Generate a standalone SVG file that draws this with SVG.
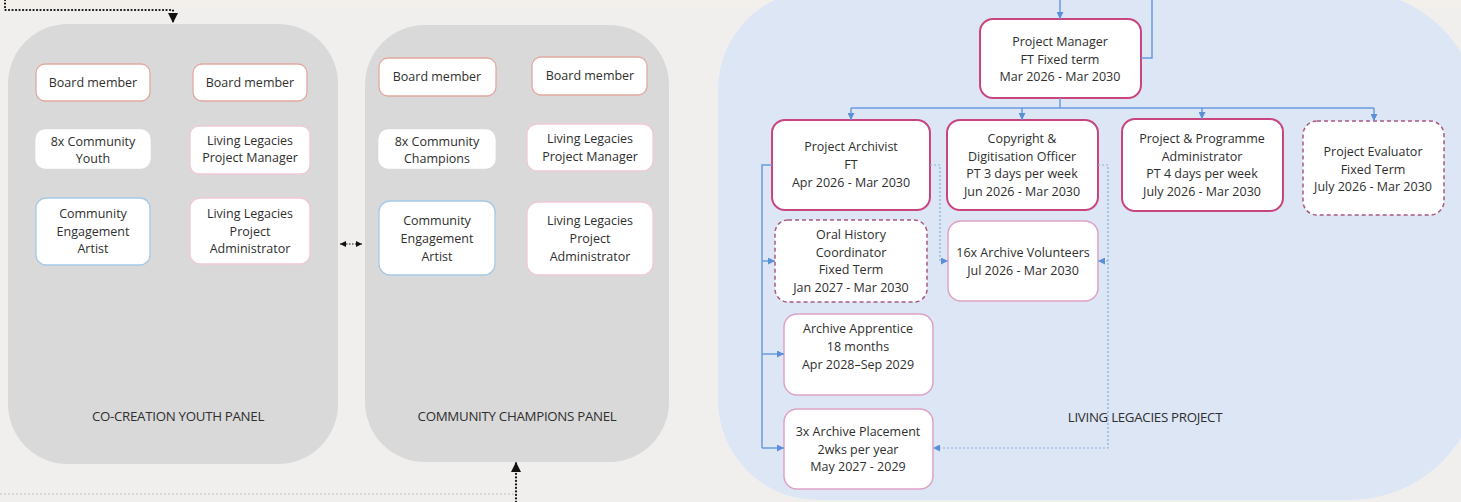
<svg xmlns="http://www.w3.org/2000/svg" width="1461" height="502" viewBox="0 0 1461 502">
<style>
text{font-family:"Open Sans","Liberation Sans",sans-serif;fill:#2f2f2f;font-size:12.5px;text-anchor:middle}
.lbl{font-size:13.3px;letter-spacing:-0.3px}
.n{fill:#fff;stroke-width:1.3}
.bm{stroke:#e2a9a0}
.ll{stroke:#efc9d6}
.wh{stroke:#fff}
.ar{stroke:#a7c9e6}
.mg{stroke:#c8457f;stroke-width:2}
.lp{stroke:#dfa2c6;stroke-width:1.5}
.ds{stroke:#a95a82;stroke-width:1.5;stroke-dasharray:4 3}
.solid{fill:none;stroke:#6a9be0;stroke-width:1.5}
.dot{fill:none;stroke:#8aaedc;stroke-width:1.2;stroke-dasharray:2 2}
.blk{fill:none;stroke:#111;stroke-width:2.2;stroke-dasharray:0.1 3.4;stroke-linecap:round}
</style>
<defs>
<marker id="ab" markerUnits="userSpaceOnUse" markerWidth="7" markerHeight="7" refX="7" refY="3.5" orient="auto"><path d="M0,0L7,3.5L0,7z" fill="#5b8fd6"/></marker>
<marker id="ak" markerUnits="userSpaceOnUse" markerWidth="10" markerHeight="10" refX="9" refY="5" orient="auto"><path d="M0,0L10,5L0,10z" fill="#111"/></marker>
<marker id="aks" markerUnits="userSpaceOnUse" markerWidth="6" markerHeight="6" refX="6" refY="3" orient="auto-start-reverse"><path d="M0,0L6,3L0,6z" fill="#111"/></marker>
</defs>
<rect width="1461" height="502" fill="#f0efed"/>
<rect x="0" y="0" width="1461" height="8" fill="#f3f0eb"/>

<g id="panel-youth">
<rect x="8" y="24" width="330" height="440" rx="60" fill="#d9d9d9"/>
<text class="lbl" x="178" y="421">CO-CREATION YOUTH PANEL</text>
</g>
<g id="panel-champions">
<rect x="365" y="25" width="304" height="437" rx="60" fill="#d9d9d9"/>
<text class="lbl" x="517" y="421">COMMUNITY CHAMPIONS PANEL</text>
</g>
<g id="panel-project">
<path d="M818,-10 H1350 A130,130 0 0 1 1480,120 V370 A130,130 0 0 1 1350,500 H818 A100,100 0 0 1 718,400 V90 A100,100 0 0 1 818,-10 Z" fill="#dce6f5"/>
<text class="lbl" x="1145" y="422">LIVING LEGACIES PROJECT</text>
</g>

<g id="y-board1"><rect class="n bm" x="36" y="64" width="114" height="37" rx="9"/><text x="93" y="87">Board member</text></g>
<g id="y-board2"><rect class="n bm" x="193" y="64" width="114" height="37" rx="9"/><text x="250" y="87">Board member</text></g>
<g id="y-youth"><rect class="n wh" x="36" y="130" width="114" height="38" rx="9"/><text x="93" y="146">8x Community<tspan x="93" dy="17">Youth</tspan></text></g>
<g id="y-llpm"><rect class="n ll" x="190" y="126" width="120" height="48" rx="9"/><text x="250" y="145">Living Legacies<tspan x="250" dy="17">Project Manager</tspan></text></g>
<g id="y-artist"><rect class="n ar" x="36" y="198" width="114" height="67" rx="10"/><text x="93" y="218">Community<tspan x="93" dy="17.5">Engagement</tspan><tspan x="93" dy="17.5">Artist</tspan></text></g>
<g id="y-llpa"><rect class="n ll" x="190" y="198" width="120" height="66" rx="10"/><text x="250" y="218">Living Legacies<tspan x="250" dy="17.5">Project</tspan><tspan x="250" dy="17.5">Administrator</tspan></text></g>

<g id="c-board1"><rect class="n bm" x="379" y="58" width="117" height="38" rx="9"/><text x="437" y="81">Board member</text></g>
<g id="c-board2"><rect class="n bm" x="532" y="57" width="115" height="38" rx="9"/><text x="590" y="80">Board member</text></g>
<g id="c-champions"><rect class="n wh" x="379" y="130" width="116" height="38" rx="9"/><text x="437" y="146">8x Community<tspan x="437" dy="17">Champions</tspan></text></g>
<g id="c-llpm"><rect class="n ll" x="527" y="124" width="126" height="47" rx="10"/><text x="590" y="143">Living Legacies<tspan x="590" dy="17.5">Project Manager</tspan></text></g>
<g id="c-artist"><rect class="n ar" x="379" y="201" width="116" height="74" rx="11"/><text x="437" y="225">Community<tspan x="437" dy="18">Engagement</tspan><tspan x="437" dy="18">Artist</tspan></text></g>
<g id="c-llpa"><rect class="n ll" x="527" y="202" width="126" height="73" rx="11"/><text x="590" y="225">Living Legacies<tspan x="590" dy="18">Project</tspan><tspan x="590" dy="18">Administrator</tspan></text></g>

<g id="p-manager"><rect class="n mg" x="980" y="19" width="161" height="79" rx="13"/><text x="1060" y="46">Project Manager<tspan x="1060" dy="17.5">FT Fixed term</tspan><tspan x="1060" dy="17.5">Mar 2026 - Mar 2030</tspan></text></g>
<g id="p-archivist"><rect class="n mg" x="772" y="120" width="158" height="90" rx="13"/><text x="851" y="151">Project Archivist<tspan x="851" dy="18">FT</tspan><tspan x="851" dy="18">Apr 2026 - Mar 2030</tspan></text></g>
<g id="p-copyright"><rect class="n mg" x="947" y="120" width="151" height="90" rx="13"/><text x="1022" y="143">Copyright &amp;<tspan x="1022" dy="17.5">Digitisation Officer</tspan><tspan x="1022" dy="17.5">PT 3 days per week</tspan><tspan x="1022" dy="17.5">Jun 2026 - Mar 2030</tspan></text></g>
<g id="p-admin"><rect class="n mg" x="1122" y="119" width="161" height="92" rx="13"/><text x="1202" y="143">Project &amp; Programme<tspan x="1202" dy="17.5">Administrator</tspan><tspan x="1202" dy="17.5">PT 4 days per week</tspan><tspan x="1202" dy="17.5">July 2026 - Mar 2030</tspan></text></g>
<g id="p-evaluator"><rect class="n ds" x="1303" y="121" width="141" height="94" rx="14"/><text x="1373" y="156">Project Evaluator<tspan x="1373" dy="17.5">Fixed Term</tspan><tspan x="1373" dy="17.5">July 2026 - Mar 2030</tspan></text></g>
<g id="p-oral"><rect class="n ds" x="775" y="220" width="152" height="82" rx="13"/><text x="851" y="239">Oral History<tspan x="851" dy="17.5">Coordinator</tspan><tspan x="851" dy="17.5">Fixed Term</tspan><tspan x="851" dy="17.5">Jan 2027 - Mar 2030</tspan></text></g>
<g id="p-volunteers"><rect class="n lp" x="948" y="221" width="150" height="80" rx="13"/><text x="1023" y="257">16x Archive Volunteers<tspan x="1023" dy="18">Jul 2026 - Mar 2030</tspan></text></g>
<g id="p-apprentice"><rect class="n lp" x="784" y="314" width="149" height="81" rx="13"/><text x="858" y="333">Archive Apprentice<tspan x="858" dy="18">18 months</tspan><tspan x="858" dy="18">Apr 2028–Sep 2029</tspan></text></g>
<g id="p-placement"><rect class="n lp" x="784" y="409" width="149" height="80" rx="13"/><text x="858" y="436">3x Archive Placement<tspan x="858" dy="17.5">2wks per year</tspan><tspan x="858" dy="17.5">May 2027 - 2029</tspan></text></g>

<g id="connectors">
<path class="blk" d="M5,0 V10 H173 V22" marker-end="url(#ak)"/>
<path class="blk" d="M516,502 V463" marker-end="url(#ak)"/>
<path d="M0,494 H516" fill="none" stroke="#d8d8d8" stroke-width="2" stroke-dasharray="2 2"/>
<path d="M340,244 H362" fill="none" stroke="#111" stroke-width="1.2" stroke-dasharray="1.5 1.5" marker-start="url(#aks)" marker-end="url(#aks)"/>

<path class="solid" d="M1060,0 V19" marker-end="url(#ab)"/>
<path class="solid" d="M1152,0 V58 H1141"/>
<path class="solid" d="M1060,98 V108 M851,108 H1374"/>
<path class="solid" d="M851,108 V120" marker-end="url(#ab)"/>
<path class="solid" d="M1022,108 V120" marker-end="url(#ab)"/>
<path class="solid" d="M1202,108 V119" marker-end="url(#ab)"/>
<path class="solid" d="M1374,108 V121" marker-end="url(#ab)"/>
<path class="solid" d="M772,165 H762 V448"/>
<path class="solid" d="M762,261 H775" marker-end="url(#ab)"/>
<path class="solid" d="M762,354 H784" marker-end="url(#ab)"/>
<path class="solid" d="M762,448 H784" marker-end="url(#ab)"/>

<path class="dot" d="M930,165 H940 V261 H948" marker-end="url(#ab)"/>
<path class="dot" d="M1098,165 H1108 V448 H933" marker-end="url(#ab)"/>
<path class="dot" d="M1108,261 H1098" marker-end="url(#ab)"/>
</g>
</svg>
